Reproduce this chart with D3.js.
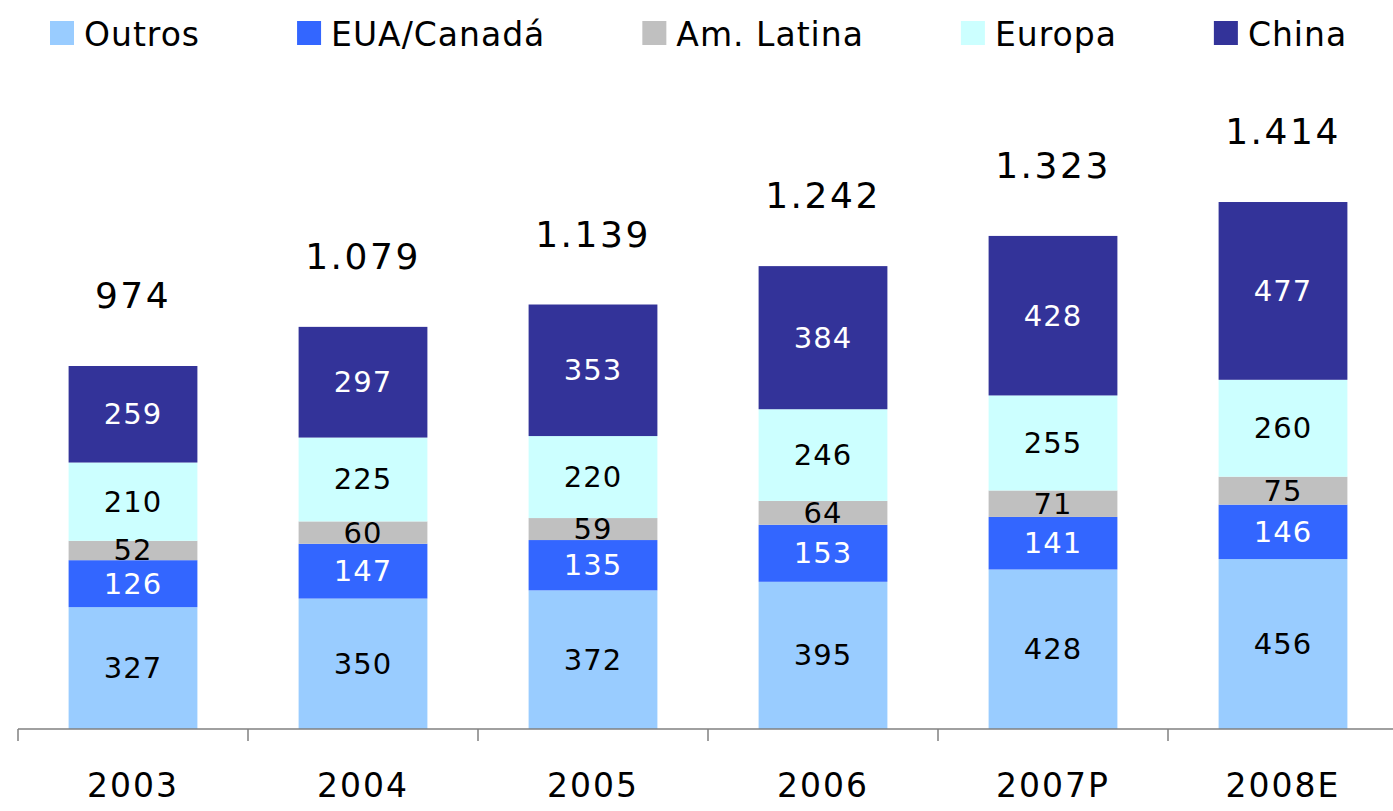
<!DOCTYPE html>
<html>
<head>
<meta charset="utf-8">
<script src="https://cdn.jsdelivr.net/npm/d3@7"></script>
<style>
  html, body { margin: 0; padding: 0; background: #fff; }
  svg { display: block; }
  text { font-family: "DejaVu Sans", Verdana, sans-serif; }
</style>
</head>
<body>
<svg id="chart" width="1393" height="811"></svg>
<script>
const years = ["2003", "2004", "2005", "2006", "2007P", "2008E"];
const seriesNames = ["Outros", "EUA/Canadá", "Am. Latina", "Europa", "China"];
const outros   = [327, 350, 372, 395, 428, 456];
const euaCanada = [126, 147, 135, 153, 141, 146];
const amLatina = [52, 60, 59, 64, 71, 75];
const europa   = [210, 225, 220, 246, 255, 260];
const china    = [259, 297, 353, 384, 428, 477];
const totals   = [974, 1079, 1139, 1242, 1323, 1414];
const totalLabels = ["974", "1.079", "1.139", "1.242", "1.323", "1.414"];
const colors = ["#99CCFF", "#3366FF", "#C0C0C0", "#CCFFFF", "#333399"];
const labelColors = ["#000", "#fff", "#000", "#000", "#fff"];

const seriesValues = [outros, euaCanada, amLatina, europa, china];
const rows = years.map((y, i) => {
  const r = { year: y };
  seriesNames.forEach((s, k) => r[s] = seriesValues[k][i]);
  return r;
});

const svg = d3.select("#chart");
const baseline = 729;

const x = d3.scaleBand().domain(years).range([18, 1398]).paddingInner(0.44).paddingOuter(0.22);
const y = d3.scaleLinear().domain([0, 974]).range([baseline, 366]);

const stack = d3.stack().keys(seriesNames);
const stacked = stack(rows);

const layers = svg.append("g").selectAll("g").data(stacked).join("g")
  .attr("fill", (d, i) => colors[i]);

layers.selectAll("rect").data(d => d).join("rect")
  .attr("x", d => x(d.data.year))
  .attr("width", x.bandwidth())
  .attr("y", d => y(d[1]))
  .attr("height", d => y(d[0]) - y(d[1]));

// segment labels
const labelG = svg.append("g");
stacked.forEach((layer, k) => {
  labelG.selectAll(null).data(layer).join("text")
    .attr("x", d => x(d.data.year) + x.bandwidth() / 2)
    .attr("y", d => (y(d[0]) + y(d[1])) / 2 + 10)
    .attr("text-anchor", "middle")
    .attr("font-size", 29)
    .attr("letter-spacing", 1)
    .attr("fill", labelColors[k])
    .text(d => d.data[seriesNames[k]]);
});

// totals
svg.append("g").selectAll("text").data(years).join("text")
  .attr("x", d => x(d) + x.bandwidth() / 2)
  .attr("y", (d, i) => y(totals[i]) - 58)
  .attr("text-anchor", "middle")
  .attr("font-size", 36)
  .attr("letter-spacing", 2.5)
  .attr("fill", "#000")
  .text((d, i) => totalLabels[i]);

// axis
const axis = d3.axisBottom(x).tickSize(0).tickPadding(45);
const axG = svg.append("g").attr("transform", `translate(0,${baseline})`).call(axis);
axG.select(".domain").attr("stroke", "#808080").attr("stroke-width", 1.5)
  .attr("d", `M18,0H1398`);
axG.selectAll(".tick text").attr("font-size", 33).attr("letter-spacing", 2)
  .attr("fill", "#000").attr("font-family", "DejaVu Sans, Verdana, sans-serif");
// category boundary ticks
const bounds = years.map(d => x(d) - x.step() * 0.22).concat([1398]);
axG.selectAll(".bound").data(bounds).join("line")
  .attr("class", "bound")
  .attr("x1", d => d).attr("x2", d => d)
  .attr("y1", 0).attr("y2", 12)
  .attr("stroke", "#808080").attr("stroke-width", 1.5);

// legend
const leg = svg.append("g").attr("transform", "translate(50,0)");
let cx = 0;
seriesNames.forEach((s, i) => {
  leg.append("rect").attr("x", cx).attr("y", 21).attr("width", 24).attr("height", 24).attr("fill", colors[i]);
  const t = leg.append("text").attr("x", cx + 34).attr("y", 46)
    .attr("font-size", 33).attr("letter-spacing", 1).attr("fill", "#000").text(s);
  cx += 34 + t.node().getComputedTextLength() + 97;
});
</script>
</body>
</html>
